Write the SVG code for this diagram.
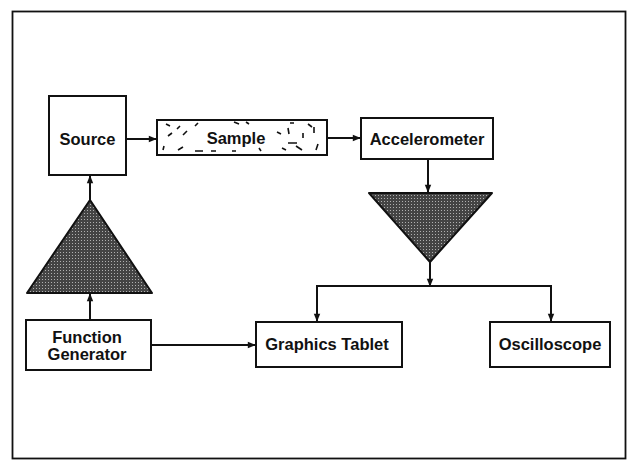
<svg xmlns="http://www.w3.org/2000/svg" width="628" height="462" viewBox="0 0 628 462">
<style>
.box{fill:#fff;stroke:#111;stroke-width:2}
.tri{fill:url(#dots);stroke:#111;stroke-width:2;stroke-linejoin:round}
.lbl{font-family:"Liberation Sans",Arial,sans-serif;font-size:16.5px;font-weight:bold;fill:#111;text-anchor:middle}
.con{fill:none;stroke:#111;stroke-width:2}
.mk{stroke:#111;stroke-width:1.6;fill:none}
</style>
<defs>
<marker id="ah" viewBox="0 0 10 10" refX="9" refY="5" markerWidth="9" markerHeight="8" orient="auto" markerUnits="userSpaceOnUse">
<path d="M0,1 L10,5 L0,9 z" fill="#111"/>
</marker>
<pattern id="dots" width="3" height="3" patternUnits="userSpaceOnUse">
<rect width="3" height="3" fill="#444"/>
<rect width="1" height="1" fill="#b0b0b0"/>
</pattern>
</defs>
<rect x="0" y="0" width="628" height="462" fill="#fff"/>
<rect x="12.5" y="11.5" width="613" height="447" fill="none" stroke="#111" stroke-width="1.8"/>
<g id="connectors">
<line class="con" x1="126" y1="139" x2="156" y2="139" marker-end="url(#ah)"/>
<line class="con" x1="327" y1="138" x2="360" y2="138" marker-end="url(#ah)"/>
<line class="con" x1="428" y1="159" x2="428" y2="192" marker-end="url(#ah)"/>
<line class="con" x1="430" y1="262" x2="430" y2="286" marker-end="url(#ah)"/>
<polyline class="con" points="317,321 317,286 551,286 551,321"/>
<line class="con" x1="317" y1="300" x2="317" y2="321" marker-end="url(#ah)"/>
<line class="con" x1="551" y1="300" x2="551" y2="321" marker-end="url(#ah)"/>
<line class="con" x1="151" y1="345" x2="255" y2="345" marker-end="url(#ah)"/>
<line class="con" x1="90" y1="320" x2="90" y2="294" marker-end="url(#ah)"/>
<line class="con" x1="90" y1="200" x2="90" y2="176" marker-end="url(#ah)"/>
</g>
<g id="source">
<rect class="box" x="49" y="96" width="77" height="79"/>
<text class="lbl" x="87.5" y="145">Source</text>
</g>
<g id="sample">
<rect class="box" x="157" y="120" width="170" height="35"/>
<path class="mk" d="M166,124 l4,2 M180,126 l-3,3 M172,133 l-4,3 M187,131 l-4,4 M195,126 l3,-3 M163,150 l1,-4 M178,150 l5,-3 M195,151 l8,0 M211,151 l5,0 M232,151 l4,0 M234,122 l5,2 M246,122 l3,2 M259,148 l2,3 M277,132 l4,2 M288,128 l1,6 M303,133 l0,5 M314,127 l0,6 M288,143 l9,0 M290,123 l4,0 M308,124 l4,3 M302,150 l-6,-4 M316,150 l2,-6 M286,150 l-4,-2"/>
<text class="lbl" x="236" y="144">Sample</text>
</g>
<g id="accelerometer">
<rect class="box" x="361" y="118" width="132" height="41"/>
<text class="lbl" x="427" y="145">Accelerometer</text>
</g>
<g id="charge-amp">
<polygon class="tri" points="369,193 492,193 430,262"/>
</g>
<g id="power-amp">
<polygon class="tri" points="90,200 152,293 27,293"/>
</g>
<g id="function-generator">
<rect class="box" x="26" y="320" width="125" height="50"/>
<text class="lbl" x="87" y="343">Function</text>
<text class="lbl" x="87" y="360">Generator</text>
</g>
<g id="graphics-tablet">
<rect class="box" x="256" y="322" width="146" height="45"/>
<text class="lbl" x="327" y="350">Graphics Tablet</text>
</g>
<g id="oscilloscope">
<rect class="box" x="490" y="322" width="120" height="45"/>
<text class="lbl" x="550" y="350">Oscilloscope</text>
</g>
</svg>
